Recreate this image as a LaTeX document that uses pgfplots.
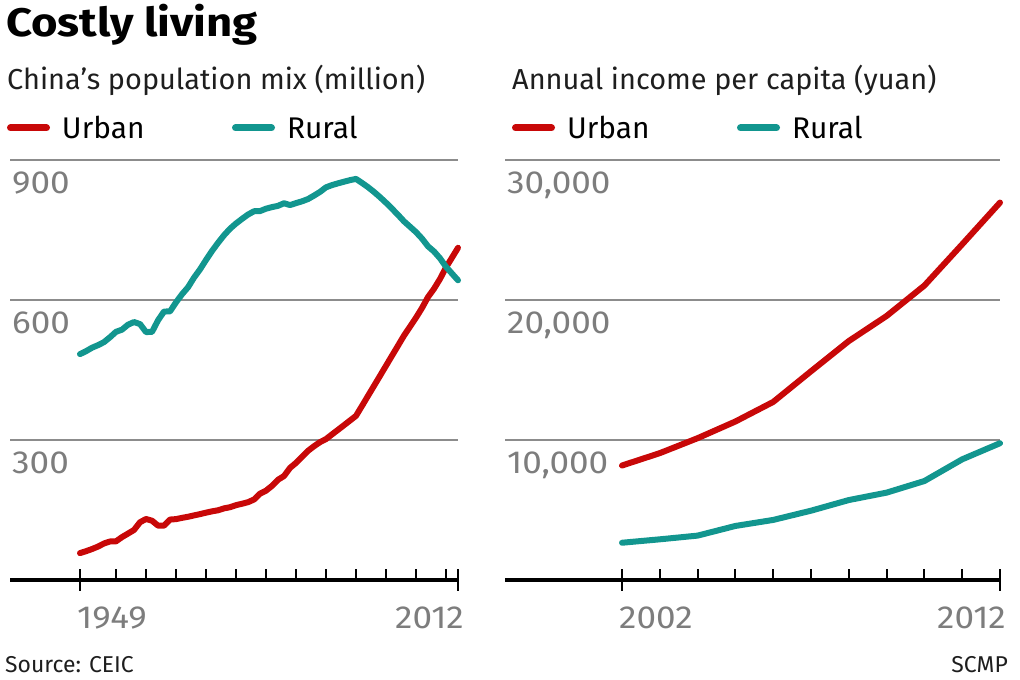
\documentclass[border=0pt]{standalone}
\usepackage{pgfplots}
\pgfplotsset{compat=1.18}
\usepackage{fontspec}
\setmainfont{Fira Sans}
\newfontfamily\titlefont{Fira Sans}[FakeStretch=1.14]
\newfontfamily\tickfont{Fira Sans}[FakeStretch=1.1]
\definecolor{urbanred}{RGB}{200,8,8}
\definecolor{ruralteal}{RGB}{18,150,143}
\definecolor{gridgray}{RGB}{140,140,140}
\definecolor{tickgray}{RGB}{125,125,125}
\definecolor{subblack}{RGB}{30,30,30}

\pgfplotstableread{
year urban rural
1949 57.65 484.02
1950 61.69 490.27
1951 66.32 497.72
1952 71.63 503.19
1953 78.26 509.70
1954 82.49 520.17
1955 82.85 531.80
1956 91.85 536.43
1957 99.49 547.04
1958 107.21 552.73
1959 123.71 548.36
1960 130.73 531.34
1961 127.07 531.52
1962 116.59 556.36
1963 116.46 575.26
1964 129.50 575.49
1965 130.45 594.93
1966 133.13 612.29
1967 135.48 627.20
1968 138.38 647.84
1969 141.17 665.54
1970 144.24 685.68
1971 147.11 704.99
1972 149.35 722.42
1973 153.45 738.66
1974 155.95 752.64
1975 160.30 763.90
1976 163.41 773.76
1977 166.69 783.05
1978 172.45 790.14
1979 184.95 790.47
1980 191.40 795.65
1981 201.71 799.01
1982 214.80 801.74
1983 222.74 807.34
1984 240.17 803.40
1985 250.94 807.57
1986 263.66 811.41
1987 276.74 816.26
1988 286.61 823.65
1989 295.40 831.64
1990 301.95 841.38
1991 312.03 846.20
1992 321.75 849.96
1993 331.73 853.44
1994 341.69 856.81
1995 351.74 859.47
1996 373.04 850.85
1997 394.49 841.77
1998 416.08 831.53
1999 437.48 820.38
2000 459.06 808.37
2001 480.64 795.63
2002 502.12 782.41
2003 523.76 768.51
2004 542.83 757.05
2005 562.12 745.44
2006 582.88 731.60
2007 606.33 714.96
2008 624.03 703.99
2009 645.12 689.38
2010 669.78 671.13
2011 690.79 656.56
2012 711.82 642.22
}\population

\pgfplotstableread{
year urban rural
2002 8177 2660
2003 9061 2905
2004 10129 3170
2005 11321 3860
2006 12719 4290
2007 14909 4950
2008 17068 5710
2009 18858 6240
2010 21033 7070
2011 23979 8620
2012 26959 9770
}\income

\pgfplotsset{
  scmp/.style={
    scale only axis, height=420bp, clip=false,
    axis lines*=left,
    y axis line style={draw=none},
    x axis line style={black, line width=3.5bp},
    ytick style={draw=none},
    ymajorgrids,
    major grid style={gridgray, line width=2.5bp},
    scaled y ticks=false,
    /pgf/number format/assume math mode=true,
    /pgf/number format/1000 sep={},
    yticklabel style={anchor=north west, inner sep=0pt, yshift=-12bp, xshift=2bp,
      text=tickgray, font=\tickfont\fontsize{32}{36}\selectfont},
    xtick align=inside,
    major tick length=22bp, minor tick length=11bp,
    xtick style={black, line width=2bp},
    major tick style={yshift=-11bp},
    xticklabel style={anchor=north west, inner sep=0pt, yshift=-27bp, xshift=-3bp,
      text=tickgray, font=\tickfont\fontsize{32}{36}\selectfont},
    extra x tick style={xticklabel style={anchor=north east, xshift=9bp}},
    legend columns=2,
    legend style={draw=none, fill=none, inner sep=0pt, outer sep=0pt,
      at={(0,1)}, anchor=west, yshift=32bp,
      nodes={inner sep=0pt},
      font=\fontsize{30}{34}\selectfont,
      /tikz/every odd column/.append style={column sep=12bp},
      /tikz/every even column/.append style={column sep=10bp}},
    legend image code/.code={\draw[##1, line width=7bp, line cap=round] (3.5bp,0bp) -- (39.5bp,0bp);},
  },
  urbanline/.style={urbanred, line width=6bp, line join=round, line cap=round},
  ruralline/.style={ruralteal, line width=6bp, line join=round, line cap=round},
}

\begin{document}
\begin{tikzpicture}[x=1bp,y=1bp]
\path[use as bounding box] (0,0) rectangle (1020,680);

\node[anchor=base west, inner sep=0pt, font=\titlefont\fontsize{40}{44}\selectfont\bfseries] at (6,643) {Costly living};
\node[anchor=base west, inner sep=0pt, text=subblack, font=\fontsize{29}{33}\selectfont] at (7,590) {China’s population mix (million)};
\node[anchor=base west, inner sep=0pt, text=subblack, font=\fontsize{29}{33}\selectfont] at (512,590) {Annual income per capita (yuan)};
\node[anchor=base west, inner sep=0pt, text=subblack, font=\fontsize{23}{26}\selectfont] at (5,7) {Source: CEIC};
\node[anchor=base east, inner sep=0pt, text=subblack, font=\fontsize{23}{26}\selectfont] at (1008,7) {SCMP};

\begin{axis}[scmp,
  at={(10bp,100bp)}, anchor=south west,
  width=448bp,
  xmin=1937.3333, xmax=2012, ymin=0, ymax=900,
  ytick={300,600,900},
  xtick={1949}, minor xtick={1955,1960,...,2010}, extra x ticks={2012},
  legend style={xshift=-3bp},
]
\addplot[urbanline] table[x=year, y=urban] {\population};
\addlegendentry{\makebox[160bp][l]{Urban}}
\addplot[ruralline] table[x=year, y=rural] {\population};
\addlegendentry{\makebox[160bp][l]{Rural}}
\end{axis}

\begin{axis}[scmp,
  at={(505bp,100bp)}, anchor=south west,
  width=495bp,
  xmin=1998.905, xmax=2012, ymin=0, ymax=30000,
  ytick={10000,20000,30000}, yticklabels={{10,000},{20,000},{30,000}},
  xtick={2002}, minor xtick={2003,2004,...,2011}, extra x ticks={2012},
  legend style={xshift=7bp},
]
\addplot[urbanline] table[x=year, y=urban] {\income};
\addlegendentry{\makebox[160bp][l]{Urban}}
\addplot[ruralline] table[x=year, y=rural] {\income};
\addlegendentry{\makebox[160bp][l]{Rural}}
\end{axis}
\end{tikzpicture}
\end{document}
